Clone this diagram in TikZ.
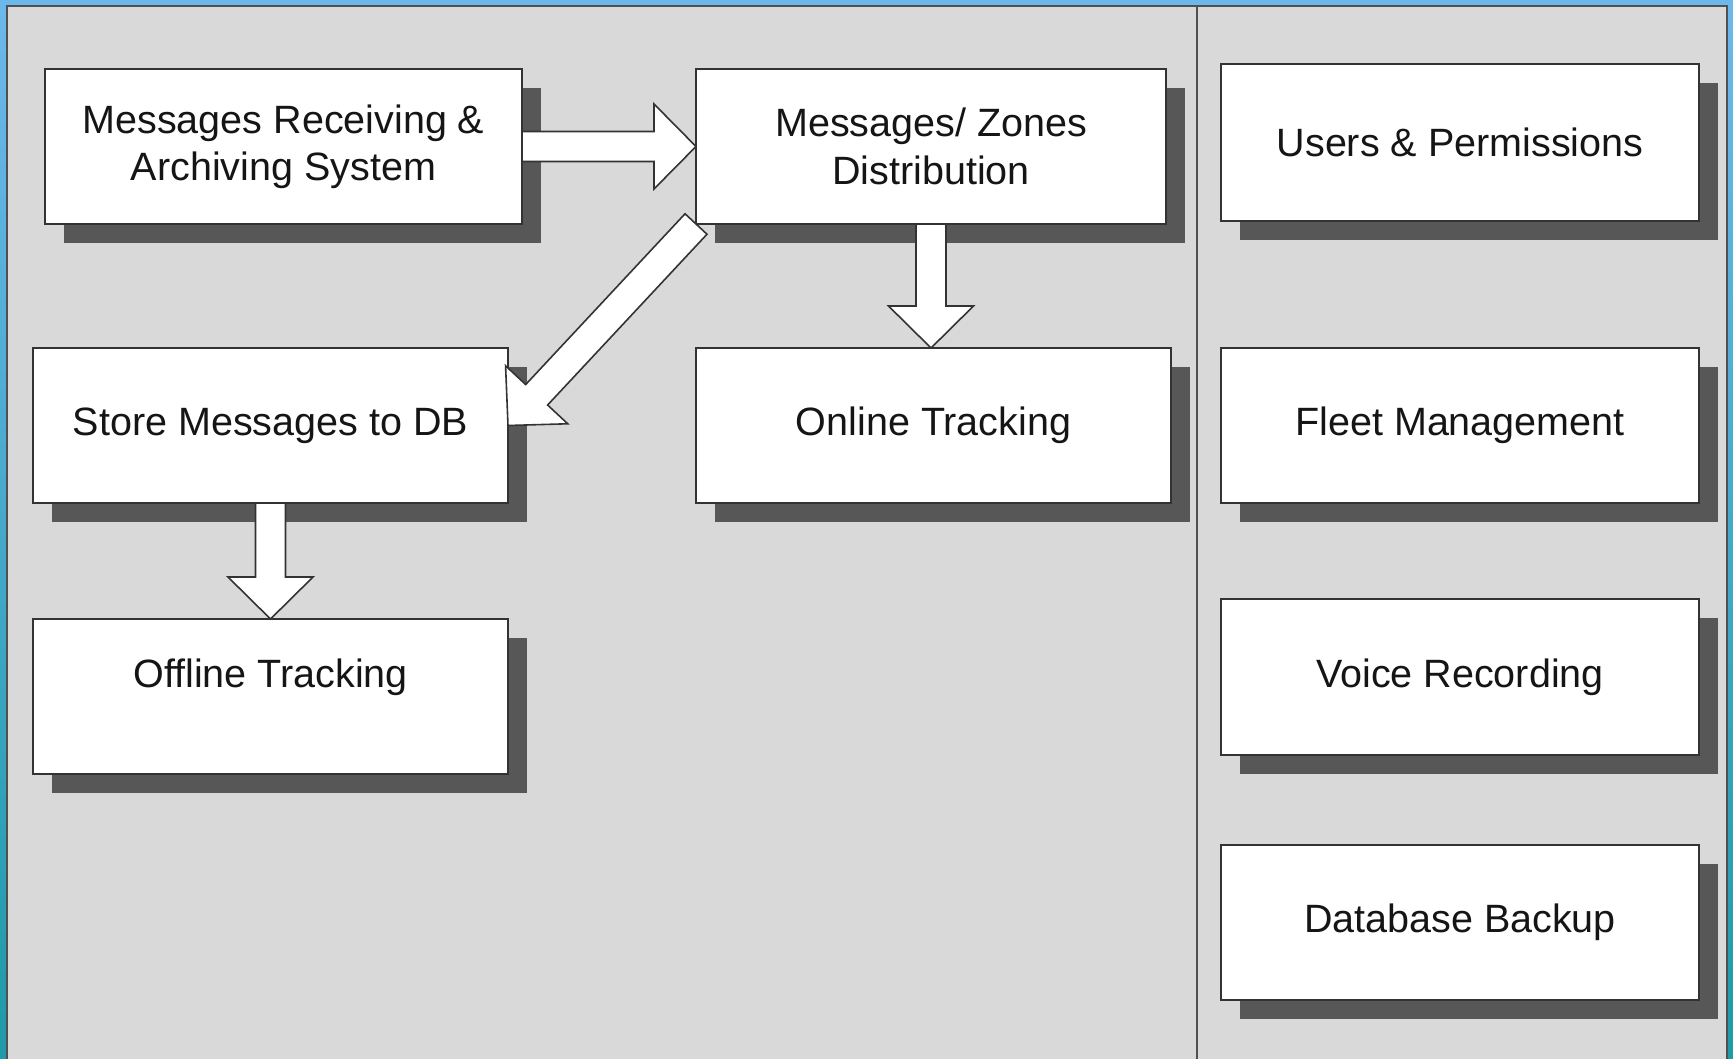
\documentclass[tikz,border=0pt]{standalone}
\usepackage{fontspec}
\setmainfont{Liberation Sans}
\usetikzlibrary{calc,shadows}
\definecolor{panelgray}{HTML}{D9D9D9}
\definecolor{shadowgray}{HTML}{575757}
\definecolor{edgegray}{HTML}{333333}
\definecolor{framegray}{HTML}{505050}
\definecolor{skytop}{HTML}{6CB8EC}
\definecolor{skybottom}{HTML}{1E9AA8}
\definecolor{inkc}{HTML}{151515}
\tikzset{
  box/.style={draw=edgegray, line width=0.8pt, fill=white, inner sep=0pt, outer sep=0pt,
    align=center, text=inkc, font=\fontsize{19.75}{23.7}\selectfont,
    drop shadow={shadow xshift=9.5pt, shadow yshift=-9.5pt, fill=shadowgray, opacity=1, draw=none}},
  blockarrow/.style={draw=edgegray, line width=0.8pt, fill=white, line join=miter},
}
\newcommand\bkarrow[2]{%
  \coordinate (bkh) at ($(#2)!21pt!(#1)$);
  \draw[blockarrow] ($(#1)!7.5pt!90:(#2)$) -- ($(bkh)!7.5pt!90:(#2)$)
    -- ($(bkh)!21.25pt!90:(#2)$) -- (#2) -- ($(bkh)!21.25pt!-90:(#2)$)
    -- ($(bkh)!7.5pt!-90:(#2)$) -- ($(#1)!7.5pt!-90:(#2)$) -- cycle;}
\begin{document}
\begin{tikzpicture}[x=0.5pt,y=-0.5pt]
\useasboundingbox (0,0) rectangle (1733,1059);
\shade[top color=skytop, bottom color=skybottom] (0,0) rectangle (1733,1059);
\fill[panelgray] (7,6) rectangle (1727,1059);
\draw[framegray, line width=1pt] (7,1059) -- (7,6) -- (1727,6) -- (1727,1059);
\draw[framegray, line width=1pt] (1197,6) -- (1197,1059);

\node[box, minimum width=238.5pt, minimum height=77.5pt] (b1) at (283.5,146.5) {Messages Receiving \&\\Archiving System};
\node[box, minimum width=235pt, minimum height=77.5pt] (b2) at (931,146.5) {Messages/ Zones\\Distribution};
\node[box, minimum width=239pt, minimum height=78.5pt] (b3) at (1460,142.5) {Users \& Permissions};
\node[box, minimum width=237.5pt, minimum height=77.5pt] (b4) at (270.5,425.5) {Store Messages to DB};
\node[box, minimum width=237.5pt, minimum height=77.5pt] (b5) at (933.5,425.5) {Online Tracking};
\node[box, minimum width=239pt, minimum height=77.5pt] (b6) at (1460,425.5) {Fleet Management};
\node[box, minimum width=237.5pt, minimum height=77.5pt] (b7) at (270.5,696.5) {Offline Tracking\\\mbox{}};
\node[box, minimum width=239pt, minimum height=78pt] (b8) at (1460,677) {Voice Recording};
\node[box, minimum width=239pt, minimum height=77.5pt] (b9) at (1460,922.5) {Database Backup};

\coordinate (b5top) at (b2.south |- b5.north);
\bkarrow{b1.east}{b2.west}
\bkarrow{b2.south}{b5top}
\bkarrow{b2.south west}{b4.east}
\bkarrow{b4.south}{b7.north}
\end{tikzpicture}
\end{document}
